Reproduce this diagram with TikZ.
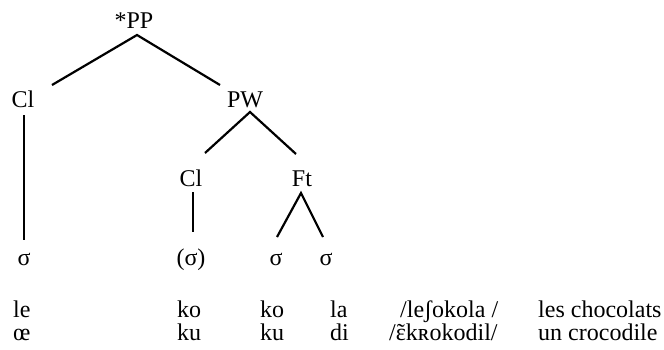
\documentclass[tikz,border=0pt]{standalone}
\usepackage{fontspec}
\setmainfont{Liberation Serif}
\usetikzlibrary{calc}
\newcommand{\nasaleps}{{\ooalign{ɛ\cr\hidewidth˜\hidewidth\cr}}}
\tikzset{
  lbl/.style={inner sep=0pt, anchor=base, font=\fontsize{24}{28}\selectfont},
  word/.style={lbl, anchor=base west},
  branch/.style={line width=2.2pt}
}
\begin{document}
\begin{tikzpicture}[x=1pt,y=-1pt]
\useasboundingbox (0,0) rectangle (664,349);
% Top node
\node[lbl] (pp) at (134,28) {*PP};

% Second level
\node[lbl] (cla) at (23,107) {Cl};
\node[lbl] (pw) at (245,107) {PW};

% Third level
\node[lbl] (clb) at (191,186) {Cl};
\node[lbl] (ft) at (302,186) {Ft};

% Syllables
\node[lbl] (sa) at (24,265) {σ};
\node[lbl] (sb) at (191,265) {(σ)};
\node[lbl] (sc) at (276,265) {σ};
\node[lbl] (sd) at (326,265) {σ};

% Branches
\draw[branch] ($(cla.base)+(29,-22)$) -- ($(pp.base)+(3,7)$) -- ($(pw.base)+(-25,-22)$);
\draw[branch] ($(cla.base)+(1,8)$) -- ($(sa.base)+(0,-25)$);
\draw[branch] ($(clb.base)+(14,-33)$) -- ($(pw.base)+(5,5)$) -- ($(ft.base)+(-6,-32)$);
\draw[branch] ($(clb.base)+(2,6)$) -- ($(sb.base)+(2,-33)$);
\draw[branch] ($(sc.base)+(1,-28)$) -- ($(ft.base)+(-1,7)$) -- ($(sd.base)+(-3,-28)$);

% First example
\node[word] (wa) at (13,317) {le};
\node[word] (wb) at (177,317) {ko};
\node[word] (wc) at (260,317) {ko};
\node[word] (wd) at (330,317) {la};
\node[word] (we) at (400,317) {/leʃokola /};
\node[word] (wf) at (538,317) {les chocolats};

% Second example
\node[word] (va) at (13,340) {œ};
\node[word] (vb) at (177,340) {ku};
\node[word] (vc) at (260,340) {ku};
\node[word] (vd) at (330,340) {di};
\node[word] (ve) at (389,340) {/\nasaleps kʀokodil/};
\node[word] (vf) at (538,340) {un crocodile};
\end{tikzpicture}
\end{document}
